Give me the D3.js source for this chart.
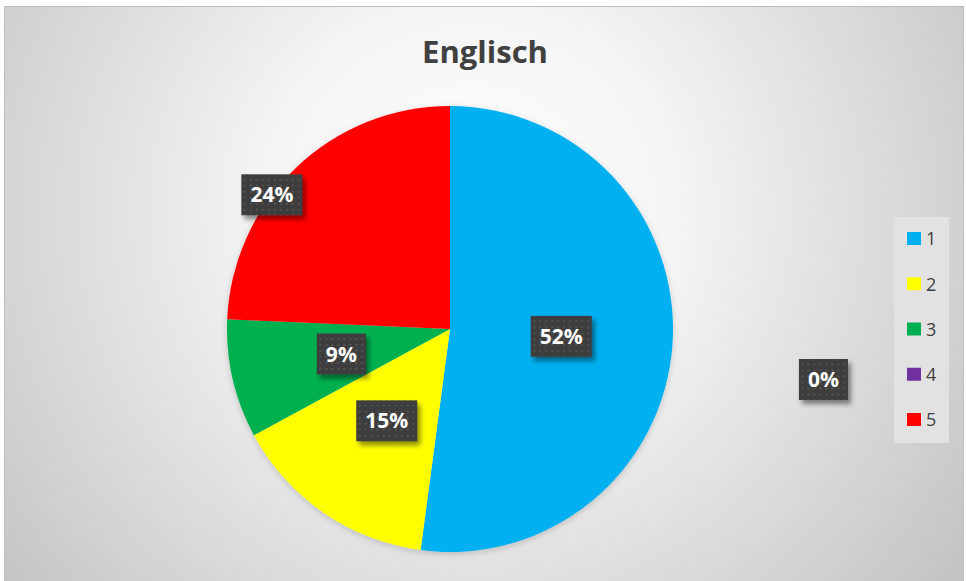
<!DOCTYPE html>
<html><head><meta charset="utf-8">
<script src="https://cdn.jsdelivr.net/npm/d3@7"></script>
<style>body{margin:0;background:#fff}svg{display:block}</style>
</head><body>
<script>
const title = "Englisch";
const categories = ["1", "2", "3", "4", "5"];
const values = [52.1, 15.0, 8.6, 0, 24.3];
const colors = ["#00B0F0", "#FFFF00", "#00B050", "#7030A0", "#FF0000"];
// label placement overrides: [radius fraction, angle in degrees from 12 o'clock] (null = centroid)
const labelPlacement = [null, null, null, [1.69, 97.7], [1.0, 307]];

const W = 966, H = 581;
const svg = d3.select("body").append("svg").attr("width", W).attr("height", H);
const defs = svg.append("defs");

const rg = defs.append("radialGradient").attr("id", "bg").attr("gradientUnits", "userSpaceOnUse")
  .attr("cx", 470).attr("cy", 210).attr("r", 600);
rg.append("stop").attr("offset", "0%").attr("stop-color", "#ffffff");
rg.append("stop").attr("offset", "35%").attr("stop-color", "#f4f4f4");
rg.append("stop").attr("offset", "100%").attr("stop-color", "#c4c4c4");

const pat = defs.append("pattern").attr("id", "dots").attr("patternUnits", "userSpaceOnUse")
  .attr("width", 6).attr("height", 6);
pat.append("rect").attr("width", 6).attr("height", 6).attr("fill", "#3d3d3d");
pat.append("rect").attr("x", 2).attr("y", 2).attr("width", 1.8).attr("height", 1.8).attr("fill", "#575757");

const sh = defs.append("filter").attr("id", "shadow").attr("x", "-30%").attr("y", "-30%").attr("width", "170%").attr("height", "180%");
sh.append("feDropShadow").attr("dx", 3).attr("dy", 4).attr("stdDeviation", 2.5).attr("flood-color", "#000").attr("flood-opacity", 0.45);

const psh = defs.append("filter").attr("id", "pshadow").attr("x", "-10%").attr("y", "-10%").attr("width", "120%").attr("height", "125%");
psh.append("feDropShadow").attr("dx", 0).attr("dy", 2).attr("stdDeviation", 3).attr("flood-color", "#000").attr("flood-opacity", 0.18);

svg.append("rect").attr("x", 4.5).attr("y", 6.5).attr("width", 959).attr("height", 580)
  .attr("fill", "url(#bg)").attr("stroke", "#bdbdbd").attr("stroke-width", 1);

svg.append("text").attr("x", 485).attr("y", 63).attr("text-anchor", "middle")
  .attr("font-family", "'Open Sans', sans-serif").attr("font-weight", 700).attr("font-size", 31)
  .attr("fill", "#404040").text(title);

const cx = 450, cy = 329, R = 223;
const data = categories.map((c, i) => ({ cat: c, value: values[i], color: colors[i], place: labelPlacement[i] }));
const pie = d3.pie().value(d => d.value).sort(null);
const arcs = pie(data);
const arc = d3.arc().innerRadius(0).outerRadius(R);

const g = svg.append("g").attr("transform", `translate(${cx},${cy})`);
g.append("g").attr("filter", "url(#pshadow)").selectAll("path").data(arcs).join("path")
  .attr("d", arc).attr("fill", d => d.data.color);

const total = d3.sum(values);
const lg = g.append("g");
arcs.forEach(a => {
  let x, y;
  if (a.data.place) {
    const r = a.data.place[0] * R, ang = a.data.place[1] * Math.PI / 180;
    x = r * Math.sin(ang); y = -r * Math.cos(ang);
  } else {
    const mid = (a.startAngle + a.endAngle) / 2, r = 0.5 * R;
    x = r * Math.sin(mid); y = -r * Math.cos(mid);
  }
  const grp = lg.append("g").attr("transform", `translate(${x},${y})`);
  const rect = grp.append("rect").attr("fill", "url(#dots)").attr("filter", "url(#shadow)");
  const t = grp.append("text").attr("text-anchor", "middle").attr("dy", "0.36em")
    .attr("font-family", "'Open Sans', sans-serif").attr("font-weight", 700).attr("font-size", 21)
    .attr("fill", "#fff").text(Math.round(a.data.value / total * 100) + "%");
  const bb = t.node().getBBox();
  const bw = bb.width + 18, bh = 41;
  rect.attr("x", -bw / 2).attr("y", -bh / 2).attr("width", bw).attr("height", bh);
});

// legend
const legX = 894, legY = 217, legW = 55, legH = 226;
const leg = svg.append("g");
leg.append("rect").attr("x", legX).attr("y", legY).attr("width", legW).attr("height", legH).attr("fill", "#e2e2e2");
const ly = d3.scalePoint().domain(categories).range([legY + 22, legY + legH - 23]);
categories.forEach((c, i) => {
  leg.append("rect").attr("x", legX + 13).attr("y", ly(c) - 7).attr("width", 14).attr("height", 13).attr("fill", colors[i]);
  leg.append("text").attr("x", legX + 32).attr("y", ly(c)).attr("dy", "0.36em")
    .attr("font-family", "'Open Sans', sans-serif").attr("font-size", 18).attr("fill", "#404040").text(c);
});
</script>
</body></html>
